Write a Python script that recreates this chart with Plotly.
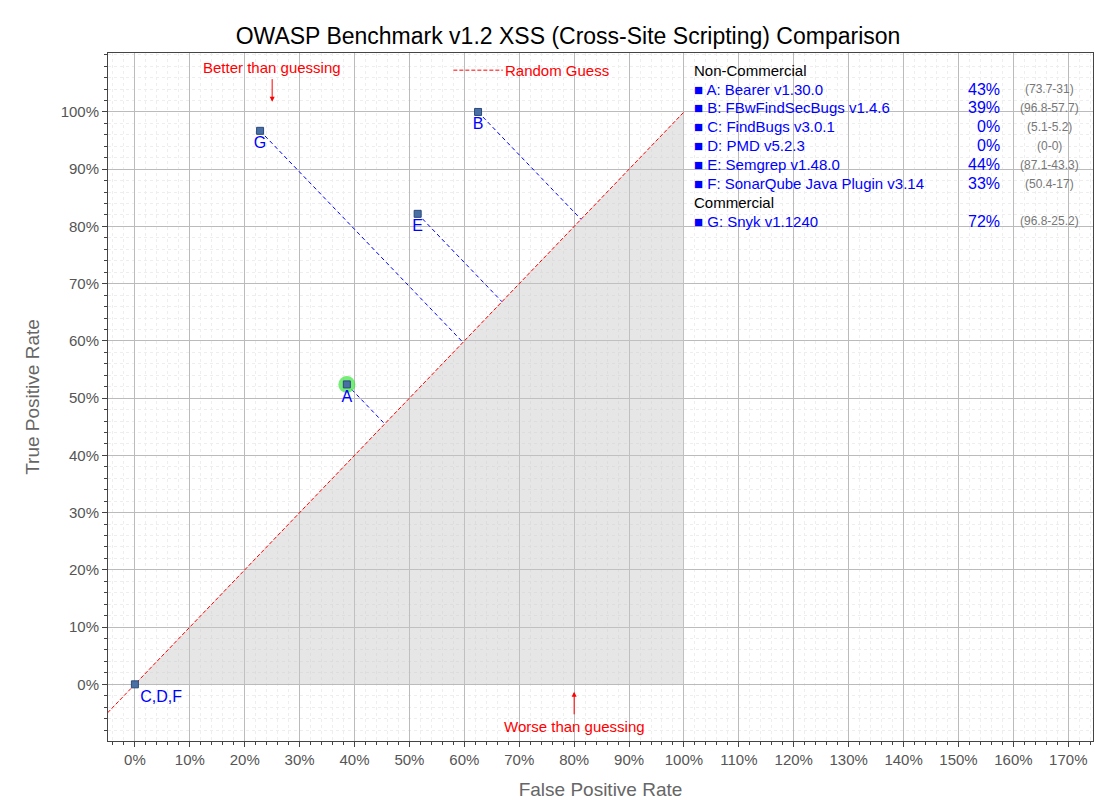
import plotly.graph_objects as go

labels = ["A", "B", "E", "G", "C,D,F"]
fpr = [38.6, 62.5, 51.5, 22.8, 0.0]
tpr = [52.4, 100.0, 82.2, 96.7, 0.0]
legend_names = ["A: Bearer v1.30.0", "B: FBwFindSecBugs v1.4.6", "C: FindBugs v3.0.1", "D: PMD v5.2.3",
                "E: Semgrep v1.48.0", "F: SonarQube Java Plugin v3.14", "G: Snyk v1.1240"]
legend_scores = ["43%", "39%", "0%", "0%", "44%", "33%", "72%"]
legend_detail = ["(73.7-31)", "(96.8-57.7)", "(5.1-5.2)", "(0-0)", "(87.1-43.3)", "(50.4-17)", "(96.8-25.2)"]

fig = go.Figure()
fig.add_trace(go.Scatter(x=[0, 100, 100, 0], y=[0, 100, 0, 0], fill="toself", fillcolor="rgba(200,200,200,0.45)",
                         line=dict(width=0), mode="lines", hoverinfo="skip", showlegend=False))
fig.add_trace(go.Scatter(x=[-5, 100], y=[-5, 100], mode="lines", line=dict(color="red", width=1, dash="4px,2px"),
                         showlegend=False))
for x, y in zip(fpr, tpr):
    if x == 0 and y == 0:
        continue
    m = (x + y) / 2
    fig.add_trace(go.Scatter(x=[x, m], y=[y, m], mode="lines", line=dict(color="blue", width=1, dash="4px,3px"),
                             showlegend=False))
fig.add_trace(go.Scatter(x=[fpr[0]], y=[tpr[0]], mode="markers",
                         marker=dict(size=17, color="rgba(60,230,60,0.7)"), showlegend=False))
fig.add_trace(go.Scatter(x=fpr, y=tpr, mode="markers+text", text=labels,
                         textposition=["bottom center"] * 4 + ["bottom right"],
                         textfont=dict(color="blue", size=16),
                         marker=dict(symbol="square", size=7, color="#4a6fa5", line=dict(color="#2a4a7a", width=1)),
                         showlegend=False))

fig.add_annotation(x=25, y=101.8, ax=25, ay=106, xref="x", yref="y", axref="x", ayref="y", showarrow=True,
                   arrowhead=2, arrowcolor="red", arrowwidth=1, text="")
fig.add_annotation(x=25, y=107.7, text="Better than guessing", showarrow=False, font=dict(color="red", size=15))
fig.add_annotation(x=80, y=-1.3, ax=80, ay=-5.5, xref="x", yref="y", axref="x", ayref="y", showarrow=True,
                   arrowhead=2, arrowcolor="red", arrowwidth=1, text="")
fig.add_annotation(x=80, y=-7.4, text="Worse than guessing", showarrow=False, font=dict(color="red", size=15))
fig.add_shape(type="line", x0=58, x1=67, y0=107.3, y1=107.3, line=dict(color="red", width=1, dash="4px,2px"))
fig.add_annotation(x=67, y=107.3, text="Random Guess", showarrow=False, xanchor="left", font=dict(color="red", size=15))

ys = 107.3
fig.add_annotation(x=101.5, y=ys, text="Non-Commercial", showarrow=False, xanchor="left", font=dict(color="black", size=15))
row = 1
for i in range(7):
    if i == 6:
        fig.add_annotation(x=101.5, y=ys - row * 3.3, text="Commercial", showarrow=False, xanchor="left",
                           font=dict(color="black", size=15))
        row += 1
    yy = ys - row * 3.3
    fig.add_annotation(x=101.5, y=yy, text="■ " + legend_names[i], showarrow=False, xanchor="left",
                       font=dict(color="blue", size=15))
    fig.add_annotation(x=158, y=yy, text=legend_scores[i], showarrow=False, xanchor="right",
                       font=dict(color="blue", size=16))
    fig.add_annotation(x=166.5, y=yy, text=legend_detail[i], showarrow=False, xanchor="center",
                       font=dict(color="#777", size=12))
    row += 1

tickv = list(range(0, 171, 10))
fig.update_xaxes(range=[-4.9, 174.5], tickvals=tickv, ticktext=[f"{v}%" for v in tickv], showgrid=True,
                 gridcolor="#bbbbbb", ticks="outside", showline=True, linecolor="#444", mirror=True,
                 minor=dict(dtick=2, showgrid=True, gridcolor="#eeeeee", griddash="dot", ticks="outside", ticklen=3),
                 zeroline=False, title=dict(text="False Positive Rate", font=dict(size=19, color="#666")),
                 tickfont=dict(size=15, color="#555"))
ytv = list(range(0, 101, 10))
fig.update_yaxes(range=[-9.9, 110.3], tickvals=ytv, ticktext=[f"{v}%" for v in ytv], showgrid=True,
                 gridcolor="#bbbbbb", ticks="outside", showline=True, linecolor="#444", mirror=True,
                 minor=dict(dtick=2, showgrid=True, gridcolor="#eeeeee", griddash="dot", ticks="outside", ticklen=3),
                 zeroline=False, title=dict(text="True Positive Rate", font=dict(size=19, color="#666")),
                 tickfont=dict(size=15, color="#555"))
fig.update_layout(width=1120, height=800, plot_bgcolor="white", paper_bgcolor="white",
                  margin=dict(l=100, r=35, t=45, b=57),
                  font=dict(family="Liberation Sans, Arial"),
                  title=dict(text="OWASP Benchmark v1.2 XSS (Cross-Site Scripting) Comparison", x=0.5, y=0.975,
                             font=dict(size=23, color="black")))
fig.write_html("out.html")
